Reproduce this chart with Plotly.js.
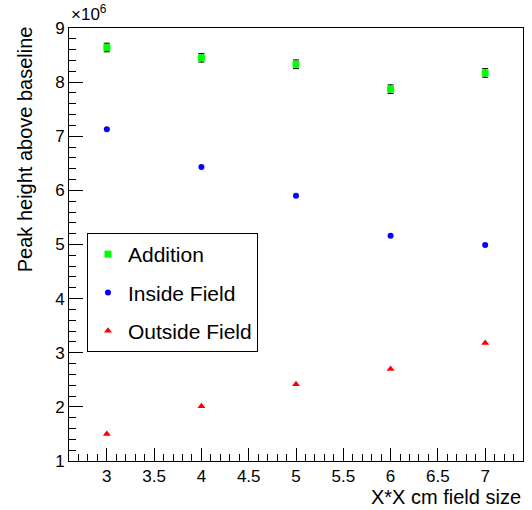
<!DOCTYPE html>
<html>
<head>
<meta charset="utf-8">
<script src="https://cdn.plot.ly/plotly-3.0.1.min.js"></script>
<style>html,body{margin:0;padding:0;background:#fff;}#chart{width:532px;height:510px;}</style>
</head>
<body>
<div id="chart"></div>
<script>
// Field sizes (X*X cm)
var fieldSize = [3, 4, 5, 6, 7];
// Peak heights above baseline, in units of 10^6
var addition = [8.64, 8.45, 8.33, 7.87, 8.17];
var additionErr = [0.08, 0.08, 0.08, 0.08, 0.08];
var insideField = [7.13, 6.43, 5.90, 5.16, 4.99];
var outsideField = [1.50, 2.01, 2.42, 2.70, 3.18];
var seriesNames = ["Addition", "Inside Field", "Outside Field"];

var font = "'Liberation Sans', Arial, Helvetica, sans-serif";

var traces = [
  {
    x: fieldSize, y: addition, name: seriesNames[0], type: "scatter", mode: "markers",
    legendgroup: "a",
    marker: {symbol: "square", color: "#00ff00", size: 7},
    error_y: {type: "data", array: additionErr, visible: true, color: "#000", thickness: 1, width: 3}
  },
  {
    x: fieldSize, y: insideField, name: seriesNames[1], type: "scatter", mode: "markers",
    legendgroup: "b",
    marker: {symbol: "circle", color: "#0000ff", size: 6}
  },
  {
    x: fieldSize, y: outsideField, name: seriesNames[2], type: "scatter", mode: "markers",
    legendgroup: "c",
    marker: {symbol: "triangle-up", color: "#ff0000", size: 7}
  }
];

var layout = {
  width: 532, height: 510,
  margin: {l: 69, r: 9, t: 28, b: 49, pad: 0},
  paper_bgcolor: "#fff", plot_bgcolor: "#fff",
  font: {family: font, size: 17, color: "#000"},
  showlegend: true,
  legend: {
    x: 0.0396, y: 0.5266, xanchor: "left", yanchor: "top",
    bordercolor: "#000", borderwidth: 1, bgcolor: "#fff",
    font: {family: font, size: 21, color: "#000"},
    traceorder: "grouped", tracegroupgap: 8,
    itemsizing: "trace"
  },
  xaxis: {
    range: [2.6, 7.4], dtick: 0.5, tick0: 0, showgrid: false, zeroline: false,
    ticks: "inside", ticklen: 13, tickwidth: 1, tickcolor: "#000",
    minor: {dtick: 0.1, ticks: "inside", ticklen: 7, tickcolor: "#000", showgrid: false},
    showline: true, linecolor: "#000", linewidth: 1, mirror: true,
    tickfont: {family: font, size: 17, color: "#000"}
  },
  yaxis: {
    range: [1, 9], dtick: 1, tick0: 0, showgrid: false, zeroline: false,
    ticks: "inside", ticklen: 14, tickwidth: 1, tickcolor: "#000",
    minor: {dtick: 0.2, ticks: "inside", ticklen: 7, tickcolor: "#000", showgrid: false},
    showline: true, linecolor: "#000", linewidth: 1, mirror: true,
    tickfont: {family: font, size: 17, color: "#000"}
  },
  annotations: [
    {text: "Peak height above baseline", xref: "paper", yref: "paper",
     x: -0.0969, y: 0.72, xanchor: "center", yanchor: "middle", textangle: -90,
     showarrow: false, font: {family: font, size: 20, color: "#000"}},
    {text: "X*X cm field size", xref: "paper", yref: "paper",
     x: 1, y: -0.082, xanchor: "right", yanchor: "middle",
     showarrow: false, font: {family: font, size: 20, color: "#000"}},
    {text: "×10<sup>6</sup>", xref: "paper", yref: "paper",
     x: 0.0, y: 1.035, xanchor: "left", yanchor: "middle",
     showarrow: false, font: {family: font, size: 17, color: "#000"}}
  ]
};

Plotly.newPlot("chart", traces, layout, {displayModeBar: false, staticPlot: true});
</script>
</body>
</html>
